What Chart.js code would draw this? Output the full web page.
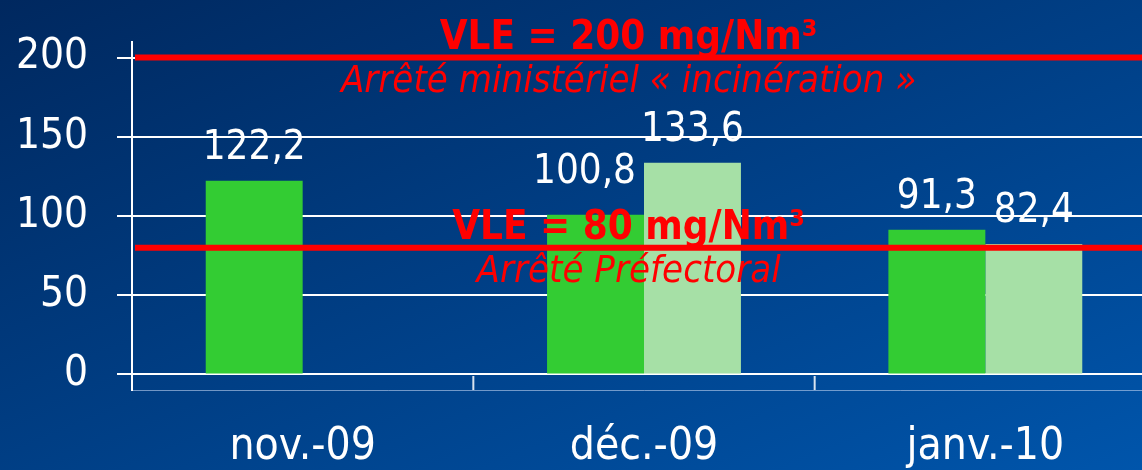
<!DOCTYPE html>
<html lang="fr">
<head>
<meta charset="utf-8">
<title>VLE</title>
<script src="https://cdn.jsdelivr.net/npm/chart.js@4.4.0/dist/chart.umd.min.js"></script>
<style>
  html, body { margin: 0; padding: 0; width: 100%; height: 100%; overflow: hidden; }
  body { background: linear-gradient(to bottom right, #00285f, #0055ab); }
  #wrap { position: relative; width: 1156px; height: 470px; }
</style>
</head>
<body>
<div id="wrap"><canvas id="chart"></canvas></div>
<script>
const months = ['nov.-09', 'déc.-09', 'janv.-10']
const seriesA = [122.2, 100.8, 91.3]
const seriesB = [null, 133.6, 82.4]
const yTicks = [0, 50, 100, 150, 200]
const limitValues = [200, 80]
const limitTitles = ['VLE = 200 mg/Nm³', 'VLE = 80 mg/Nm³']
const limitNotes = ['Arrêté ministériel « incinération »', 'Arrêté Préfectoral']

const family = '"DejaVu Sans Condensed", "DejaVu Sans", sans-serif'

const limitLines = {
  id: 'limitLines',
  afterDatasetsDraw(chart) {
    const { ctx, chartArea, scales } = chart
    const cx = chartArea.left + chartArea.width * 0.485
    ctx.save()
    limitValues.forEach((v, i) => {
      const y = scales.y.getPixelForValue(v)
      ctx.strokeStyle = '#ff0000'
      ctx.lineWidth = 6
      ctx.beginPath()
      ctx.moveTo(chartArea.left + 3, y)
      ctx.lineTo(chartArea.right, y)
      ctx.stroke()

      ctx.fillStyle = '#ff0000'
      ctx.textAlign = 'center'
      ctx.textBaseline = 'alphabetic'
      ctx.font = 'bold 40px ' + family
      ctx.fillText(limitTitles[i], cx, y - 9)
      ctx.font = 'italic 38px ' + family
      ctx.fillText(limitNotes[i], cx, y + 34)
    })
    ctx.restore()
  },
}

const valueLabels = {
  id: 'valueLabels',
  afterDatasetsDraw(chart) {
    const { ctx } = chart
    ctx.save()
    ctx.font = '40px ' + family
    ctx.fillStyle = '#ffffff'
    ctx.textAlign = 'center'
    ctx.textBaseline = 'alphabetic'
    chart.data.datasets.forEach((ds, di) => {
      chart.getDatasetMeta(di).data.forEach((bar, i) => {
        const v = ds.data[i]
        if (v == null) return
        const text = v.toFixed(1).replace('.', ',')
        const w = ctx.measureText(text).width
        let x = bar.x
        let y = bar.y - 22
        // move the label off a taller neighbour bar
        const nextDs = chart.data.datasets[di + 1]
        if (nextDs && nextDs.data[i] != null) {
          const next = chart.getDatasetMeta(di + 1).data[i]
          if (next.y < y && x + w / 2 > next.x - next.width / 2) {
            x = next.x - next.width / 2 - 8 - w / 2
            y = bar.y - 32
          }
        }
        ctx.fillText(text, x, y)
      })
    })
    ctx.restore()
  },
}

const categoryTicks = {
  id: 'categoryTicks',
  afterDatasetsDraw(chart) {
    const { ctx, chartArea, scales } = chart
    ctx.save()
    ctx.strokeStyle = 'rgba(255, 255, 255, 0.85)'
    ctx.lineWidth = 2
    for (let i = 1; i < months.length; i++) {
      const x = (scales.x.getPixelForTick(i - 1) + scales.x.getPixelForTick(i)) / 2
      ctx.beginPath()
      ctx.moveTo(x, chartArea.bottom)
      ctx.lineTo(x, chartArea.bottom - 14)
      ctx.stroke()
    }
    ctx.restore()
  },
}

new Chart(document.getElementById('chart'), {
  type: 'bar',
  data: {
    labels: months,
    datasets: [
      { data: seriesA, backgroundColor: '#33cc33', borderWidth: 0 },
      { data: seriesB, backgroundColor: '#a6e0a6', borderWidth: 0 },
    ],
  },
  options: {
    responsive: true,
    maintainAspectRatio: false,
    animation: false,
    layout: { padding: { top: 42, left: 0, right: 0, bottom: 0 } },
    datasets: { bar: { categoryPercentage: 0.568, barPercentage: 1 } },
    plugins: {
      legend: { display: false },
      tooltip: { enabled: false },
    },
    scales: {
      x: {
        afterFit: scale => {
          scale.height = 80
          scale.paddingLeft = 0
          scale.paddingRight = 0
        },
        grid: { drawOnChartArea: false, drawTicks: false },
        border: { color: 'rgba(190, 210, 240, 0.6)', width: 1 },
        ticks: {
          color: '#ffffff',
          padding: 31,
          font: { family: family, size: 44 },
        },
      },
      y: {
        min: -9.8,
        max: 209.8,
        afterBuildTicks: scale => {
          scale.ticks = yTicks.map(v => ({ value: v }))
        },
        afterFit: scale => {
          scale.width = 132
          scale.paddingTop = 0
          scale.paddingBottom = 0
        },
        grid: { color: '#ffffff', lineWidth: 2, tickLength: 15 },
        border: { color: '#ffffff', width: 2 },
        ticks: {
          color: '#ffffff',
          padding: 29,
          font: { family: family, size: 42 },
        },
      },
    },
  },
  plugins: [limitLines, valueLabels, categoryTicks],
})
</script>
</body>
</html>
